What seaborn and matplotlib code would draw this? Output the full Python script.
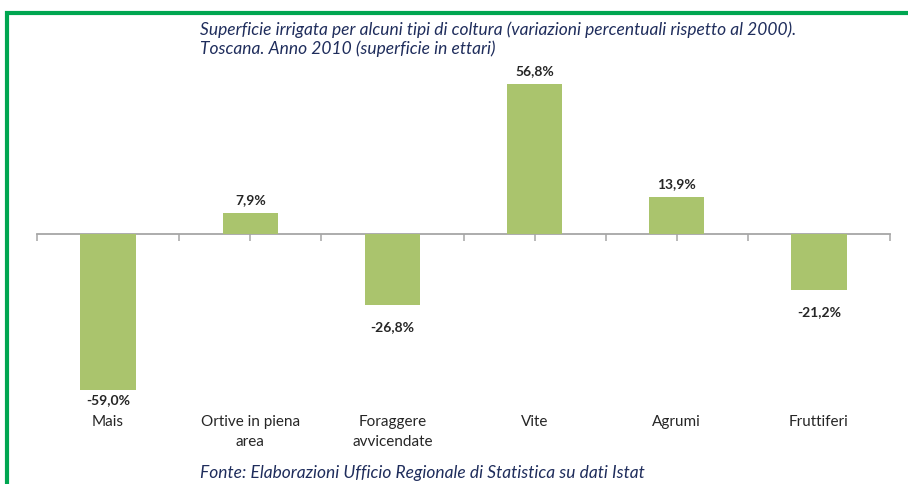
import numpy as np
import pandas as pd
import seaborn as sns
import matplotlib.pyplot as plt
from matplotlib.patches import Rectangle
from matplotlib.transforms import blended_transform_factory

# data
categories = ["Mais", "Ortive in piena\narea", "Foraggere\navvicendate", "Vite", "Agrumi", "Fruttiferi"]
variations = [-59.0, 7.9, -26.8, 56.8, 13.9, -21.2]

title = ("Superficie irrigata per alcuni tipi di coltura (variazioni percentuali rispetto al 2000).\n"
         "Toscana. Anno 2010 (superficie in ettari)")
source = "Fonte: Elaborazioni Ufficio Regionale di Statistica su dati Istat"

bar_color = "#AAC46D"
axis_color = "#A6A6A6"
text_blue = "#1F2D5C"
border_green = "#00A651"

sns.set_theme(style="white")
plt.rcParams["font.family"] = ["Lato", "DejaVu Sans"]

W, H = 908, 485
fig = plt.figure(figsize=(W / 100, H / 100), dpi=100)

# axes placed by pixel: x from 37 to 890, zero line at y=235
y0, y1 = -60, 60
px_per_unit = 150 / 56.8
top_px = 235 - y1 * px_per_unit
bot_px = 235 - y0 * px_per_unit
ax = fig.add_axes([37 / W, 1 - bot_px / H, (890 - 37) / W, (bot_px - top_px) / H])

df = pd.DataFrame({"coltura": categories, "var": variations})
sns.barplot(data=df, x="coltura", y="var", color=bar_color, saturation=1,
            width=0.39, ax=ax, edgecolor="none")

ax.set_xlim(-0.5, len(categories) - 0.5)
ax.set_ylim(y0, y1)
ax.set_xlabel("")
ax.set_ylabel("")
ax.set_yticks([])
for s in ["top", "right", "left"]:
    ax.spines[s].set_visible(False)
ax.spines["bottom"].set_position(("data", 0))
ax.spines["bottom"].set_color(axis_color)
ax.spines["bottom"].set_linewidth(1.3)
ax.spines["bottom"].set_zorder(0)
ax.set_xticks(np.arange(-0.5, len(categories), 0.5))
ax.set_xticklabels([])
ax.tick_params(axis="x", direction="out", length=5, width=1.1, color=axis_color, bottom=True)
ax.patch.set_alpha(0)

# value labels
offsets = {0: -3, 2: -15, 5: -15}
for i, v in enumerate(variations):
    lab = f"{v:.1f}%".replace(".", ",")
    if v >= 0:
        ax.annotate(lab, (i, v), xytext=(0, 8), textcoords="offset pixels",
                    ha="center", va="bottom", fontsize=10, color="#262626", fontweight="bold")
    else:
        ax.annotate(lab, (i, v), xytext=(0, offsets.get(i, -12)), textcoords="offset pixels",
                    ha="center", va="top", fontsize=10, color="#262626", fontweight="bold")

# category labels below plot
trans = blended_transform_factory(ax.transData, fig.transFigure)
for i, c in enumerate(categories):
    ax.text(i, 1 - 415 / H, c, transform=trans, ha="center", va="top",
            fontsize=11, color="#262626", linespacing=1.55)

fig.text(200 / W, 1 - 21 / H, title, ha="left", va="top", fontsize=12.5,
         style="italic", color=text_blue, linespacing=1.2)
fig.text(200 / W, 1 - 473 / H, source, ha="left", va="center", fontsize=12.5,
         style="italic", color=text_blue)

# green frame
fig.patches.append(Rectangle((7 / W, -0.1), 1.2, 1 - 13.5 / H + 0.1, transform=fig.transFigure,
                             fill=False, edgecolor=border_green, linewidth=3, clip_on=False))

fig.savefig("out.png", dpi=100)
